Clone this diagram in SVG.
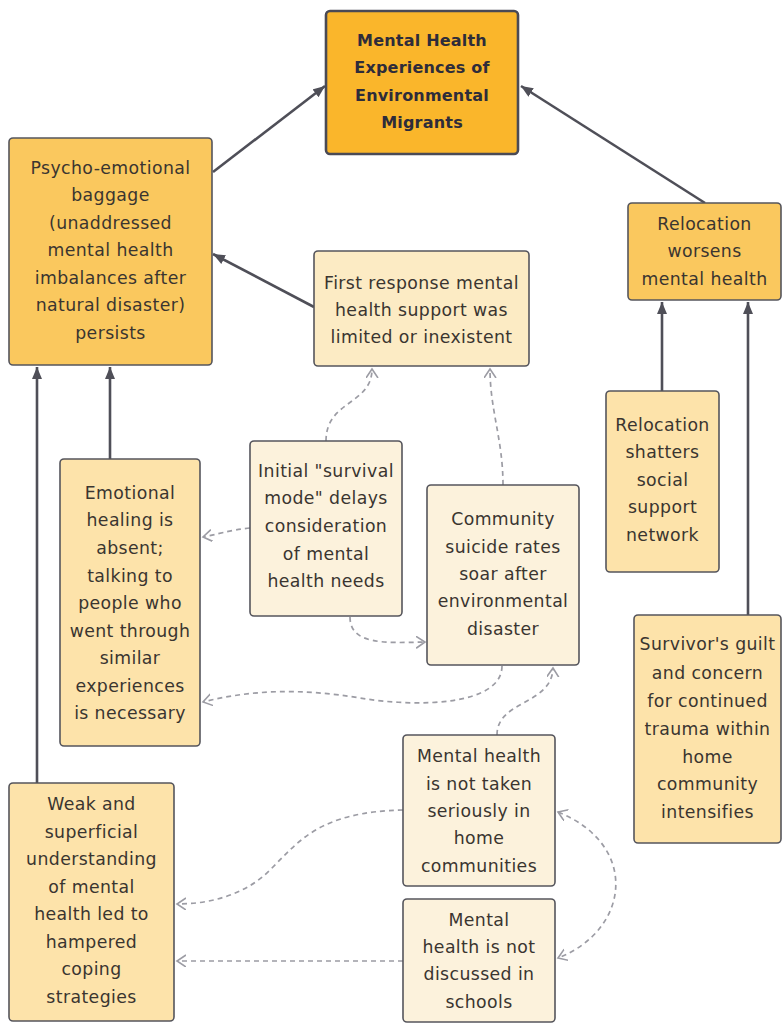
<svg xmlns="http://www.w3.org/2000/svg" width="782" height="1023" viewBox="0 0 782 1023">
<defs>
<style>
.box{stroke:#55555c;stroke-width:1.6}
.main{fill:#FAB62B;stroke:#4a4a55;stroke-width:2.6}
.strong{fill:#FAC85E}
.mid{fill:#FDE3AA}
.light{fill:#FCEBC4}
.pale{fill:#FCF2DC}
text{font-family:"DejaVu Sans","Noto Sans",sans-serif;font-size:17.3px;letter-spacing:0.4px;fill:#3a3530;text-anchor:middle}
text.title{font-weight:700;font-size:16px;letter-spacing:0.2px;fill:#2e2c3a}
.solid{fill:none;stroke:#4f4f58;stroke-width:2.6}
.dash{fill:none;stroke:#9c9ca4;stroke-width:1.7;stroke-dasharray:5 4}
</style>
<marker id="ah" markerUnits="userSpaceOnUse" markerWidth="14" markerHeight="12" refX="12" refY="5" orient="auto">
<path d="M0,0 L12,5 L0,10 z" fill="#4f4f58"/>
</marker>
<marker id="oh" markerUnits="userSpaceOnUse" markerWidth="12" markerHeight="14" refX="9" refY="6" orient="auto-start-reverse">
<path d="M0,0 L9,6 L0,12" fill="none" stroke="#9c9ca4" stroke-width="1.6"/>
</marker>
</defs>
<rect width="782" height="1023" fill="#ffffff"/>

<g id="connectors">
<path class="solid" d="M213,172 L325,86" marker-end="url(#ah)"/>
<path class="solid" d="M705,203 L521,86" marker-end="url(#ah)"/>
<path class="solid" d="M314,307 L213,254" marker-end="url(#ah)"/>
<path class="solid" d="M110,459 L110,367" marker-end="url(#ah)"/>
<path class="solid" d="M37,783 L37,367" marker-end="url(#ah)"/>
<path class="solid" d="M662,391 L662,302" marker-end="url(#ah)"/>
<path class="solid" d="M748,615 L748,302" marker-end="url(#ah)"/>

<path class="dash" d="M326,441 C326,400 372,405 372,369" marker-end="url(#oh)"/>
<path class="dash" d="M503,485 C503,440 490,410 490,369" marker-end="url(#oh)"/>
<path class="dash" d="M250,528 C230,530 215,535 203,537" marker-end="url(#oh)"/>
<path class="dash" d="M350,617 C350,645 385,643 425,642" marker-end="url(#oh)"/>
<path class="dash" d="M502,666 C502,705 420,708 360,698 C300,688 250,690 203,702" marker-end="url(#oh)"/>
<path class="dash" d="M497,735 C497,700 552,705 553,668" marker-end="url(#oh)"/>
<path class="dash" d="M403,810 C320,812 300,840 270,870 C245,895 210,904 177,904" marker-end="url(#oh)"/>
<path class="dash" d="M403,961 L177,961" marker-end="url(#oh)"/>
<path class="dash" d="M558,812 C640,845 630,930 558,958" marker-start="url(#oh)" marker-end="url(#oh)"/>
</g>

<g id="title">
<rect class="main" x="326" y="11" width="192" height="143" rx="4"/>
<text class="title"><tspan x="422" y="46">Mental Health</tspan><tspan x="422" y="73">Experiences of</tspan><tspan x="422" y="101">Environmental</tspan><tspan x="422" y="128">Migrants</tspan></text>
</g>

<g id="psycho">
<rect class="box strong" x="9" y="138" width="203" height="227" rx="4"/>
<text><tspan x="110.5" y="174">Psycho-emotional</tspan><tspan x="110.5" y="201">baggage</tspan><tspan x="110.5" y="229">(unaddressed</tspan><tspan x="110.5" y="256">mental health</tspan><tspan x="110.5" y="284">imbalances after</tspan><tspan x="110.5" y="311">natural disaster)</tspan><tspan x="110.5" y="339">persists</tspan></text>
</g>

<g id="first-response">
<rect class="box light" x="314" y="251" width="215" height="115" rx="4"/>
<text><tspan x="421.5" y="289">First response mental</tspan><tspan x="421.5" y="316">health support was</tspan><tspan x="421.5" y="343">limited or inexistent</tspan></text>
</g>

<g id="relocation-worsens">
<rect class="box strong" x="628" y="203" width="153" height="97" rx="4"/>
<text><tspan x="704.5" y="230">Relocation</tspan><tspan x="704.5" y="257">worsens</tspan><tspan x="704.5" y="285">mental health</tspan></text>
</g>

<g id="relocation-shatters">
<rect class="box mid" x="606" y="391" width="113" height="181" rx="4"/>
<text><tspan x="662.5" y="431">Relocation</tspan><tspan x="662.5" y="458">shatters</tspan><tspan x="662.5" y="486">social</tspan><tspan x="662.5" y="513">support</tspan><tspan x="662.5" y="541">network</tspan></text>
</g>

<g id="survivor">
<rect class="box mid" x="634" y="615" width="147" height="228" rx="4"/>
<text><tspan x="707.5" y="650">Survivor's guilt</tspan><tspan x="707.5" y="679">and concern</tspan><tspan x="707.5" y="707">for continued</tspan><tspan x="707.5" y="735">trauma within</tspan><tspan x="707.5" y="763">home</tspan><tspan x="707.5" y="790">community</tspan><tspan x="707.5" y="818">intensifies</tspan></text>
</g>

<g id="initial">
<rect class="box pale" x="250" y="441" width="152" height="175" rx="4"/>
<text><tspan x="326" y="477">Initial "survival</tspan><tspan x="326" y="504">mode" delays</tspan><tspan x="326" y="532">consideration</tspan><tspan x="326" y="560">of mental</tspan><tspan x="326" y="587">health needs</tspan></text>
</g>

<g id="community">
<rect class="box pale" x="427" y="485" width="152" height="180" rx="4"/>
<text><tspan x="503" y="525">Community</tspan><tspan x="503" y="553">suicide rates</tspan><tspan x="503" y="580">soar after</tspan><tspan x="503" y="607">environmental</tspan><tspan x="503" y="635">disaster</tspan></text>
</g>

<g id="emotional">
<rect class="box mid" x="60" y="459" width="140" height="287" rx="4"/>
<text><tspan x="130" y="499">Emotional</tspan><tspan x="130" y="526">healing is</tspan><tspan x="130" y="554">absent;</tspan><tspan x="130" y="582">talking to</tspan><tspan x="130" y="609">people who</tspan><tspan x="130" y="637">went through</tspan><tspan x="130" y="664">similar</tspan><tspan x="130" y="692">experiences</tspan><tspan x="130" y="719">is necessary</tspan></text>
</g>

<g id="weak">
<rect class="box mid" x="9" y="783" width="165" height="238" rx="4"/>
<text><tspan x="91.5" y="810">Weak and</tspan><tspan x="91.5" y="838">superficial</tspan><tspan x="91.5" y="865">understanding</tspan><tspan x="91.5" y="893">of mental</tspan><tspan x="91.5" y="920">health led to</tspan><tspan x="91.5" y="948">hampered</tspan><tspan x="91.5" y="975">coping</tspan><tspan x="91.5" y="1003">strategies</tspan></text>
</g>

<g id="not-serious">
<rect class="box pale" x="403" y="735" width="152" height="151" rx="4"/>
<text><tspan x="479" y="762">Mental health</tspan><tspan x="479" y="790">is not taken</tspan><tspan x="479" y="817">seriously in</tspan><tspan x="479" y="844">home</tspan><tspan x="479" y="872">communities</tspan></text>
</g>

<g id="not-discussed">
<rect class="box pale" x="403" y="899" width="152" height="123" rx="4"/>
<text><tspan x="479" y="926">Mental</tspan><tspan x="479" y="953">health is not</tspan><tspan x="479" y="980">discussed in</tspan><tspan x="479" y="1008">schools</tspan></text>
</g>
</svg>
